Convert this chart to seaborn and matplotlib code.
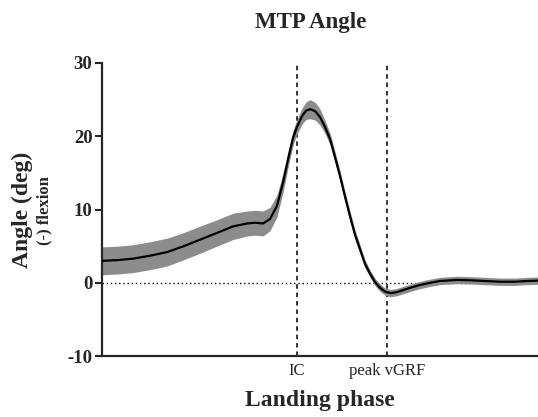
import matplotlib
matplotlib.use("Agg")
import matplotlib.pyplot as plt
import numpy as np
import pandas as pd
import seaborn as sns

# Landing phase (% of trial) and MTP angle mean / band half-width (deg)
phase = [0.0, 3.5, 7.1, 11.0, 14.9, 18.7, 22.5, 26.3, 30.0, 33.3, 35.1, 36.9, 38.5,
         40.1, 41.5, 42.7, 43.8, 44.7, 45.9, 46.8, 47.7, 48.9, 50.0, 51.1, 52.3,
         53.4, 54.6, 55.7, 56.9, 58.0, 59.2, 60.3, 61.5, 62.6, 63.8, 64.9, 66.1,
         67.4, 69.0, 71.1, 72.9, 75.2, 77.5, 81.4, 84.4, 87.8, 91.3, 94.7, 97.5, 100.0]
angle_mean = [3.0, 3.1, 3.3, 3.7, 4.2, 5.0, 5.9, 6.8, 7.7, 8.1, 8.2, 8.1, 8.7,
              10.5, 13.7, 17.0, 19.8, 21.3, 22.8, 23.5, 23.7, 23.4, 22.6, 21.3, 19.6,
              17.2, 14.5, 11.8, 9.0, 6.6, 4.5, 2.6, 1.2, 0.1, -0.7, -1.2, -1.4,
              -1.3, -1.0, -0.6, -0.3, 0.0, 0.25, 0.4, 0.35, 0.25, 0.15, 0.15, 0.25, 0.3]
angle_sd = [1.9, 1.9, 1.9, 1.9, 1.9, 1.85, 1.85, 1.8, 1.8, 1.7, 1.7, 1.7, 1.6,
            1.5, 1.3, 1.1, 1.0, 1.0, 1.1, 1.2, 1.3, 1.2, 1.1, 0.9, 0.8,
            0.75, 0.7, 0.7, 0.7, 0.65, 0.6, 0.55, 0.5, 0.5, 0.5, 0.5, 0.5,
            0.5, 0.5, 0.5, 0.5, 0.5, 0.5, 0.5, 0.5, 0.5, 0.5, 0.5, 0.5, 0.5]

events = [44.7, 65.3]
event_labels = ["IC", "peak vGRF"]

df = pd.DataFrame({"phase": phase, "mean": angle_mean, "sd": angle_sd})

sns.set_style("ticks")
plt.rcParams["font.family"] = ["Liberation Serif", "DejaVu Serif"]

fig = plt.figure(figsize=(5.38, 4.17), dpi=100)
ax = fig.add_axes([0.19, 0.146, 0.81, 0.703])

ax.fill_between(df["phase"], df["mean"] - df["sd"], df["mean"] + df["sd"],
                color="#8c8c8c", linewidth=0, zorder=2)
sns.lineplot(data=df, x="phase", y="mean", color="black", linewidth=1.6, ax=ax, zorder=3)

ax.axhline(0, color="black", linestyle=(0, (1, 2)), linewidth=1.0, zorder=1)
for e in events:
    ax.axvline(e, color="black", linestyle=(0, (3, 2.5)), linewidth=1.1, zorder=1)

ax.set_xlim(0, 100)
ax.set_ylim(-10, 30)
ax.set_yticks([-10, 0, 10, 20, 30])
ax.set_yticklabels(["-10", "0", "10", "20", "30"], fontweight="bold", fontsize=13.5)
ax.set_xticks(events)
ax.set_xticklabels(event_labels, fontsize=12)
ax.tick_params(axis="x", length=0, pad=5)
ax.tick_params(axis="y", length=5, width=1.5, pad=2)

sns.despine(ax=ax)
for s in ["left", "bottom"]:
    ax.spines[s].set_linewidth(1.6)

ax.set_xlabel("Landing phase", fontsize=17, fontweight="bold", labelpad=8)
ax.set_ylabel("")
fig.text(0.042, 0.497, "Angle (deg)", rotation=90, ha="center", va="center",
         fontsize=17, fontweight="bold")
fig.text(0.082, 0.494, "(-) flexion", rotation=90, ha="center", va="center",
         fontsize=12, fontweight="bold")
fig.text(0.578, 0.947, "MTP Angle", ha="center", va="center",
         fontsize=16.5, fontweight="bold")

fig.savefig("out.png", dpi=100)
